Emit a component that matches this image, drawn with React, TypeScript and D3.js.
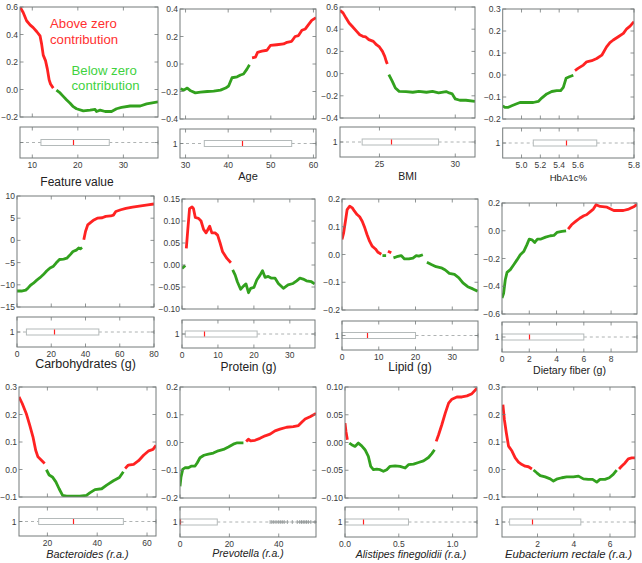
import React from 'react';
import * as d3 from 'd3';

type Pt = [number, number];
type Seg = { c: 'r' | 'g'; pts: Pt[] };

// ---------- DATA ----------
const featureSegments: Seg[] = [
  { c: 'r', pts: [[7.3,0.6],[8.0,0.56],[8.75,0.5],[9.5,0.47],[10.2,0.45],[11.0,0.42],[11.7,0.39],[12.05,0.33],[12.4,0.25],[12.9,0.21],[13.3,0.15],[13.7,0.07],[14.0,0.04],[14.6,0.01]] },
  { c: 'g', pts: [[15.3,-0.005],[16.1,-0.025],[16.8,-0.05],[17.5,-0.075],[18.3,-0.1],[19.0,-0.125],[19.7,-0.14],[21.2,-0.155],[22.7,-0.15],[23.8,-0.145],[24.1,-0.16],[24.9,-0.15],[26.0,-0.16],[27.4,-0.16],[28.5,-0.14],[29.6,-0.13],[31.5,-0.12],[33.7,-0.12],[35.1,-0.105],[37.6,-0.09]] },
];
const ageSegments: Seg[] = [
  { c: 'g', pts: [[28.8,-0.18],[29.6,-0.19],[30.4,-0.175],[31.2,-0.195],[32.3,-0.21],[33.5,-0.205],[35.1,-0.2],[36.6,-0.197],[38.2,-0.19],[39.4,-0.175],[40.1,-0.16],[40.9,-0.1],[42.1,-0.093],[42.9,-0.08],[43.6,-0.073],[44.4,-0.037],[45.0,-0.005]] },
  { c: 'r', pts: [[45.6,0.045],[46.4,0.05],[46.9,0.085],[47.9,0.093],[49.1,0.1],[49.9,0.135],[51.4,0.14],[53.0,0.146],[53.8,0.158],[54.9,0.165],[55.7,0.2],[56.5,0.207],[57.3,0.245],[58.1,0.255],[58.8,0.285],[59.6,0.317],[60.6,0.337]] },
];
const bmiSegments: Seg[] = [
  { c: 'r', pts: [[22.4,0.57],[22.6,0.547],[22.8,0.5],[23.0,0.456],[23.2,0.426],[23.5,0.38],[23.7,0.35],[23.9,0.336],[24.1,0.33],[24.3,0.306],[24.6,0.29],[24.8,0.26],[25.0,0.24],[25.2,0.2],[25.35,0.156],[25.45,0.11],[25.52,0.087]] },
  { c: 'g', pts: [[25.62,-0.01],[25.85,-0.07],[26.05,-0.13],[26.3,-0.16],[26.75,-0.162],[27.2,-0.168],[27.6,-0.16],[28.1,-0.168],[28.5,-0.16],[28.9,-0.174],[29.4,-0.162],[29.6,-0.174],[29.8,-0.183],[30.0,-0.228],[30.3,-0.24],[30.7,-0.24],[31.3,-0.25]] },
];
const hba1cSegments: Seg[] = [
  { c: 'g', pts: [[4.8,-0.14],[4.824,-0.147],[4.86,-0.147],[4.896,-0.14],[4.949,-0.131],[4.984,-0.125],[5.055,-0.125],[5.125,-0.125],[5.178,-0.12],[5.214,-0.105],[5.268,-0.086],[5.321,-0.075],[5.374,-0.071],[5.416,-0.071],[5.444,-0.056],[5.473,-0.015],[5.508,-0.008],[5.55,-0.001]] },
  { c: 'r', pts: [[5.568,0.02],[5.6,0.03],[5.619,0.045],[5.631,0.06],[5.649,0.065],[5.667,0.075],[5.685,0.09],[5.702,0.128],[5.714,0.147],[5.726,0.159],[5.744,0.174],[5.762,0.189],[5.774,0.21],[5.786,0.222],[5.8,0.242]] },
];
const carbSegments: Seg[] = [
  { c: 'g', pts: [[0,-11.4],[2.6,-11.4],[5.1,-11.2],[6.5,-10.7],[7.9,-10.1],[9.4,-9.7],[11.4,-9.0],[13.4,-8.4],[15.4,-7.7],[17.3,-6.9],[19.3,-6.2],[21.3,-5.8],[22.8,-5.1],[24.8,-4.3],[27.2,-4.2],[29.1,-4.0],[31.1,-3.2],[32.7,-2.5],[34.6,-2.2],[36.0,-1.7],[37.0,-1.9],[38.0,-1.6]] },
  { c: 'r', pts: [[39.0,0.15],[40.0,2.0],[41.3,3.5],[42.9,4.0],[44.9,4.6],[46.9,5.0],[49.8,5.1],[51.8,5.4],[54.7,5.5],[56.3,5.7],[57.7,6.5],[60.6,6.9],[63.6,7.2],[67.5,7.5],[72.4,7.8],[76.4,8.0],[80,8.2]] },
];
const proteinSegments: Seg[] = [
  { c: 'g', pts: [[0,-0.008],[0.9,-0.001]] },
  { c: 'r', pts: [[1.2,0.038],[1.6,0.079],[2.1,0.128],[2.8,0.132],[3.2,0.128],[3.7,0.108],[4.6,0.106],[5.3,0.1],[6.0,0.081],[6.7,0.073],[7.1,0.079],[7.7,0.088],[8.3,0.073],[9.2,0.073],[9.9,0.068],[10.6,0.05],[11.3,0.03],[12.5,0.015],[13.6,0.005]] },
  { c: 'g', pts: [[14.1,-0.011],[14.8,-0.023],[15.4,-0.038],[16.3,-0.055],[17.1,-0.048],[17.8,-0.043],[18.5,-0.063],[19.1,-0.053],[20.0,-0.051],[20.8,-0.034],[21.7,-0.023],[22.4,-0.013],[23.1,-0.028],[24.0,-0.026],[24.9,-0.03],[25.9,-0.03],[26.8,-0.042],[28.2,-0.053],[29.5,-0.045],[30.9,-0.042],[31.9,-0.036],[32.8,-0.03],[33.7,-0.032],[34.6,-0.036],[36.0,-0.038],[36.9,-0.043]] },
];
const lipidSegments: Seg[] = [
  { c: 'r', pts: [[0,0.054],[0.45,0.078],[1.0,0.126],[1.4,0.162],[2.1,0.174],[2.8,0.168],[3.4,0.156],[4.1,0.144],[4.8,0.136],[5.5,0.12],[6.2,0.096],[6.8,0.072],[7.5,0.048],[8.2,0.03],[9.1,0.02],[9.8,0.008],[10.7,0.001]] },
  { c: 'g', pts: [[11.0,-0.004],[12.0,-0.004]] },
  { c: 'r', pts: [[12.5,0.012],[13.4,0.006]] },
  { c: 'g', pts: [[14.0,-0.012],[14.9,-0.008],[16.1,-0.004],[17.0,-0.016],[18.2,-0.016],[19.3,-0.013],[20.2,-0.004],[20.9,-0.006],[22.0,-0.001]] },
  { c: 'g', pts: [[23.1,-0.028],[24.3,-0.036],[25.6,-0.044],[27.0,-0.048],[28.1,-0.056],[29.2,-0.068],[30.6,-0.072],[31.8,-0.084],[32.9,-0.102],[34.2,-0.116],[35.6,-0.124],[36.9,-0.132]] },
];
const fiberSegments: Seg[] = [
  { c: 'g', pts: [[0,-0.485],[0.12,-0.45],[0.24,-0.353],[0.37,-0.3],[0.61,-0.28],[0.86,-0.245],[1.1,-0.21],[1.34,-0.173],[1.59,-0.15],[1.83,-0.1],[2.0,-0.06],[2.2,-0.065],[2.4,-0.084],[2.6,-0.06],[2.86,-0.06],[3.2,-0.046],[3.55,-0.036],[3.8,-0.034],[4.03,-0.012],[4.4,-0.005],[4.7,-0.001]] },
  { c: 'r', pts: [[4.85,0.012],[5.1,0.043],[5.4,0.067],[5.7,0.09],[6.0,0.108],[6.2,0.115],[6.5,0.14],[6.7,0.156],[6.9,0.188],[7.2,0.175],[7.7,0.17],[8.2,0.146],[8.6,0.146],[8.9,0.146],[9.3,0.156],[9.7,0.175],[9.9,0.19]] },
];
const bacteroidesSegments: Seg[] = [
  { c: 'r', pts: [[8.6,0.264],[9.9,0.24],[11.5,0.204],[12.9,0.161],[14.2,0.119],[15.3,0.07],[16.2,0.046],[17.6,0.034],[18.9,0.022]] },
  { c: 'g', pts: [[19.6,-0.001],[20.7,-0.02],[22.0,-0.027],[23.4,-0.045],[24.7,-0.07],[26.1,-0.094],[27.7,-0.097],[30.4,-0.097],[33.0,-0.097],[35.7,-0.094],[37.0,-0.085],[39.1,-0.073],[41.8,-0.07],[43.8,-0.057],[46.5,-0.041],[48.9,-0.029],[50.5,-0.008]] },
  { c: 'r', pts: [[51.2,0.004],[52.5,0.016],[54.6,0.019],[56.6,0.032],[58.6,0.052],[60.7,0.068],[62.4,0.073],[63.6,0.088]] },
];
const prevotellaSegments: Seg[] = [
  { c: 'g', pts: [[0,-0.158],[0.4,-0.125],[1.1,-0.097],[2.0,-0.091],[3.4,-0.091],[4.7,-0.085],[6.1,-0.085],[7.0,-0.073],[8.1,-0.055],[9.7,-0.046],[11.5,-0.042],[13.5,-0.038],[15.5,-0.03],[17.6,-0.025],[19.6,-0.016],[21.6,-0.006],[23.2,-0.001],[25.7,-0.001]] },
  { c: 'r', pts: [[26.8,0.004],[27.7,0.012],[28.6,0.006],[30.4,0.008],[32.4,0.015],[34.5,0.024],[36.5,0.03],[38.5,0.042],[40.5,0.048],[43.2,0.055],[45.9,0.057],[48.0,0.061],[49.3,0.073],[50.7,0.085],[52.7,0.093],[55.1,0.105]] },
];
const alistipesSegments: Seg[] = [
  { c: 'r', pts: [[0,0.035],[0.009,0.02],[0.022,0.005]] },
  { c: 'g', pts: [[0.04,-0.001],[0.062,-0.004],[0.093,-0.007],[0.124,-0.001],[0.155,-0.006],[0.186,-0.013],[0.217,-0.025],[0.239,-0.043],[0.264,-0.049],[0.295,-0.048],[0.326,-0.049],[0.357,-0.052],[0.388,-0.049],[0.419,-0.043],[0.466,-0.042],[0.512,-0.043],[0.559,-0.046],[0.59,-0.04],[0.637,-0.039],[0.683,-0.036],[0.73,-0.033],[0.776,-0.027],[0.807,-0.02],[0.832,-0.013]] },
  { c: 'r', pts: [[0.848,0.002],[0.87,0.014],[0.9,0.032],[0.932,0.053],[0.963,0.071],[0.994,0.078],[1.04,0.082],[1.087,0.082],[1.134,0.084],[1.18,0.088],[1.227,0.098]] },
];
const eubacteriumSegments: Seg[] = [
  { c: 'r', pts: [[0.09,0.236],[0.17,0.182],[0.28,0.133],[0.4,0.085],[0.59,0.067],[0.77,0.042],[0.95,0.027],[1.14,0.018],[1.32,0.012],[1.5,0.01],[1.69,0.002]] },
  { c: 'g', pts: [[1.78,-0.002],[1.96,-0.012],[2.15,-0.022],[2.42,-0.027],[2.7,-0.034],[2.88,-0.042],[3.1,-0.034],[3.34,-0.03],[3.61,-0.027],[3.98,-0.027],[4.26,-0.024],[4.53,-0.034],[4.8,-0.036],[5.04,-0.036],[5.27,-0.046],[5.45,-0.036],[5.72,-0.036],[5.96,-0.03],[6.18,-0.018],[6.37,-0.002]] },
  { c: 'r', pts: [[6.5,0.002],[6.64,0.012],[6.83,0.024],[7.01,0.039],[7.2,0.042],[7.38,0.042]] },
];

// box stats: [whiskerLow, q1, median, q3, whiskerHigh]
const featureBox = [7.3, 11.9, 18.9, 26.9, 37.6];
const ageBox = [28.7, 34.4, 43.2, 54.9, 60.6];
const bmiBox = [22.4, 23.86, 25.77, 28.9, 31.3];
const hba1cBox = [4.8, 5.125, 5.47, 5.667, 5.8];
const carbBox = [0, 5.5, 21.8, 47.8, 80];
const proteinBox = [0, 0.9, 6.0, 20.9, 37];
const lipidBox = [0, 0, 6.9, 20, 37];
const fiberBox = [0, 0, 2.0, 6.0, 9.9];
const bacteroidesBox = [8.6, 16.5, 30.4, 50.5, 63.6];
const prevotellaBox = [0, 0, 0, 15.1, 36.5];
const prevotellaOutliers = [37.2, 38.0, 38.9, 39.8, 40.6, 41.4, 42.2, 43.5, 45.5, 47.5, 48.5, 49.2, 49.9, 50.6, 51.3, 52.0, 53.0, 54.7];
const alistipesBox = [0, 0, 0.165, 0.59, 1.227];
const eubacteriumBox = [0.04, 0.46, 1.72, 4.39, 7.38];

// tick values
const featureXTicks = [10, 20, 30];
const featureYTicks = [-0.2, 0, 0.2, 0.4, 0.6];
const ageXTicks = [30, 40, 50, 60];
const ageYTicks = [-0.4, -0.2, 0, 0.2, 0.4];
const bmiXTicks = [25, 30];
const bmiYTicks = [-0.4, -0.2, 0, 0.2, 0.4, 0.6];
const hba1cXTicks = [5.0, 5.2, 5.4, 5.6, 5.8];
const hba1cYTicks = [-0.2, -0.1, 0, 0.1, 0.2, 0.3];
const carbXTicks = [0, 20, 40, 60, 80];
const carbYTicks = [-15, -10, -5, 0, 5, 10];
const proteinXTicks = [0, 10, 20, 30];
const proteinYTicks = [-0.1, -0.05, 0, 0.05, 0.1, 0.15];
const lipidXTicks = [0, 10, 20, 30];
const lipidYTicks = [-0.2, -0.1, 0, 0.1, 0.2];
const fiberXTicks = [0, 2, 4, 6, 8];
const fiberYTicks = [-0.6, -0.4, -0.2, 0, 0.2];
const bacteroidesXTicks = [20, 40, 60];
const bacteroidesYTicks = [-0.1, 0, 0.1, 0.2, 0.3];
const prevotellaXTicks = [0, 20, 40];
const prevotellaYTicks = [-0.2, -0.1, 0, 0.1, 0.2];
const alistipesXTicks = [0, 0.5, 1.0];
const alistipesYTicks = [-0.1, -0.05, 0, 0.05, 0.1];
const eubacteriumXTicks = [2, 4, 6];
const eubacteriumYTicks = [-0.1, 0, 0.1, 0.2, 0.3];

// ---------- STYLE / LAYOUT ----------
const RED = '#ff2222';
const GREEN = '#32a11e';
const FRAME = '#747a7a';
const TICKTXT = '#3a3a3a';
const FONT = '"Liberation Sans", Arial, sans-serif';

type PanelCfg = {
  title: string; italic?: boolean; titleSize: number; titleY: number; titleX?: number;
  segs: Seg[]; xDomain: number[]; xStops?: number[]; yDomain: [number, number];
  xTicks: number[]; yTicks: number[]; xDec: number; yDec: number;
  box: number[]; outliers?: number[]; showOne?: boolean;
  l: number; t: number; r: number; b: number; bt: number; bb: number;
};

const panels: PanelCfg[] = [
  { title: 'Feature value', titleSize: 12, titleY: 186, titleX: 77, segs: featureSegments, xDomain: [7.3, 37.6], yDomain: [-0.2, 0.6], xTicks: featureXTicks, yTicks: featureYTicks, xDec: 0, yDec: 1, box: featureBox, showOne: false, l: 20, t: 7, r: 158, b: 117, bt: 127, bb: 158 },
  { title: 'Age', titleSize: 11, titleY: 180, segs: ageSegments, xDomain: [28.7, 60.6], yDomain: [-0.4, 0.4], xTicks: ageXTicks, yTicks: ageYTicks, xDec: 0, yDec: 1, box: ageBox, l: 180, t: 9, r: 316, b: 119, bt: 129, bb: 158 },
  { title: 'BMI', titleSize: 10.5, titleY: 180, segs: bmiSegments, xDomain: [22.4, 31.3], yDomain: [-0.4, 0.6], xTicks: bmiXTicks, yTicks: bmiYTicks, xDec: 0, yDec: 1, box: bmiBox, l: 340, t: 7, r: 475, b: 118, bt: 127, bb: 157 },
  { title: 'HbA1c%', titleSize: 9.6, titleY: 181, segs: hba1cSegments, xDomain: [4.8, 5.6, 5.8], xStops: [0, 0.5735, 1], yDomain: [-0.2, 0.3], xTicks: hba1cXTicks, yTicks: hba1cYTicks, xDec: 1, yDec: 1, box: hba1cBox, l: 502.7, t: 9, r: 634, b: 119, bt: 128, bb: 158 },
  { title: 'Carbohydrates (g)', titleSize: 12.5, titleY: 368, segs: carbSegments, xDomain: [0, 80], yDomain: [-15, 10], xTicks: carbXTicks, yTicks: carbYTicks, xDec: 0, yDec: 0, box: carbBox, l: 17, t: 196, r: 154, b: 307, bt: 317, bb: 347 },
  { title: 'Protein (g)', titleSize: 12, titleY: 371, segs: proteinSegments, xDomain: [0, 37], yDomain: [-0.1, 0.15], xTicks: proteinXTicks, yTicks: proteinYTicks, xDec: 0, yDec: 2, box: proteinBox, l: 182, t: 199, r: 315, b: 309, bt: 320, bb: 348 },
  { title: 'Lipid (g)', titleSize: 12, titleY: 371, segs: lipidSegments, xDomain: [0, 37], yDomain: [-0.2, 0.2], xTicks: lipidXTicks, yTicks: lipidYTicks, xDec: 0, yDec: 1, box: lipidBox, l: 342, t: 199, r: 478, b: 310, bt: 321, bb: 350 },
  { title: 'Dietary fiber (g)', titleSize: 10.6, titleY: 374, segs: fiberSegments, xDomain: [0, 9.9], yDomain: [-0.6, 0.2], xTicks: fiberXTicks, yTicks: fiberYTicks, xDec: 0, yDec: 1, box: fiberBox, l: 502, t: 203, r: 637, b: 314, bt: 322, bb: 352 },
  { title: 'Bacteroides (r.a.)', italic: true, titleSize: 10.8, titleY: 558, segs: bacteroidesSegments, xDomain: [8.6, 63.6], yDomain: [-0.1, 0.3], xTicks: bacteroidesXTicks, yTicks: bacteroidesYTicks, xDec: 0, yDec: 1, box: bacteroidesBox, l: 19, t: 387, r: 156, b: 497, bt: 507, bb: 536 },
  { title: 'Prevotella (r.a.)', italic: true, titleSize: 10.5, titleY: 557, segs: prevotellaSegments, xDomain: [0, 55.1], yDomain: [-0.2, 0.2], xTicks: prevotellaXTicks, yTicks: prevotellaYTicks, xDec: 0, yDec: 1, box: prevotellaBox, outliers: prevotellaOutliers, l: 180, t: 387, r: 316, b: 498, bt: 507, bb: 537 },
  { title: 'Alistipes finegolidii (r.a.)', italic: true, titleSize: 10.5, titleY: 558, segs: alistipesSegments, xDomain: [0, 1.227], yDomain: [-0.1, 0.1], xTicks: alistipesXTicks, yTicks: alistipesYTicks, xDec: 1, yDec: 2, box: alistipesBox, l: 345, t: 387, r: 477, b: 498, bt: 507, bb: 537 },
  { title: 'Eubacterium rectale (r.a.)', italic: true, titleSize: 11.3, titleY: 558, segs: eubacteriumSegments, xDomain: [0.04, 7.38], yDomain: [-0.1, 0.3], xTicks: eubacteriumXTicks, yTicks: eubacteriumYTicks, xDec: 0, yDec: 1, box: eubacteriumBox, l: 502, t: 387, r: 635, b: 497, bt: 507, bb: 537 },
];

const fmt = (v: number, dec: number) => {
  const s = Math.abs(v).toFixed(dec);
  return (v < -1e-9 ? '\u2212' : '') + s;
};

function Panel({ p, idx }: { p: PanelCfg; idx: number }) {
  const range = p.xStops ? p.xStops.map((f) => p.l + f * (p.r - p.l)) : [p.l, p.r];
  const x = d3.scaleLinear().domain(p.xDomain).range(range);
  const y = d3.scaleLinear().domain(p.yDomain).range([p.b, p.t]);
  const line = d3.line<Pt>().x((d) => x(d[0])).y((d) => y(d[1])).curve(d3.curveLinear);
  const clipId = `clip${idx}`;
  const tl = 3.5;
  const cy = (p.bt + p.bb) / 2;
  const bh = 6;
  const [wLo, q1, med, q3, wHi] = p.box;
  const mx = Math.round(x(med)) + 0.5;
  return (
    <g>
      <defs>
        <clipPath id={clipId}>
          <rect x={p.l} y={p.t} width={p.r - p.l} height={p.b - p.t} />
        </clipPath>
      </defs>
      <rect x={p.l} y={p.t} width={p.r - p.l} height={p.b - p.t} fill="#fff" />
      <g clipPath={`url(#${clipId})`}>
        {p.segs.map((s, i) => (
          <path key={i} d={line(s.pts) || ''} fill="none" stroke={s.c === 'r' ? RED : GREEN} strokeWidth={2.8} strokeLinejoin="round" strokeLinecap="butt" />
        ))}
      </g>
      {p.yTicks.map((v, i) => (
        <g key={'y' + i}>
          <line x1={p.l} x2={p.l + tl} y1={y(v)} y2={y(v)} stroke={FRAME} strokeWidth={0.8} />
          <line x1={p.r} x2={p.r - tl} y1={y(v)} y2={y(v)} stroke={FRAME} strokeWidth={0.8} />
          <text x={p.l - 2} y={y(v) + 3} textAnchor="end" fontSize={8.5} fill={TICKTXT} fontFamily={FONT}>{fmt(v, p.yDec)}</text>
        </g>
      ))}
      {p.xTicks.map((v, i) => (
        <g key={'x' + i}>
          <line x1={x(v)} x2={x(v)} y1={p.b} y2={p.b - tl} stroke={FRAME} strokeWidth={0.8} />
          <line x1={x(v)} x2={x(v)} y1={p.t} y2={p.t + tl} stroke={FRAME} strokeWidth={0.8} />
          <line x1={x(v)} x2={x(v)} y1={p.bb} y2={p.bb - tl} stroke={FRAME} strokeWidth={0.8} />
          <line x1={x(v)} x2={x(v)} y1={p.bt} y2={p.bt + tl} stroke={FRAME} strokeWidth={0.8} />
          <text x={x(v)} y={p.bb + 9.5} textAnchor="middle" fontSize={8.5} fill={TICKTXT} fontFamily={FONT}>{fmt(v, p.xDec)}</text>
        </g>
      ))}
      <rect x={p.l} y={p.t} width={p.r - p.l} height={p.b - p.t} fill="none" stroke={FRAME} strokeWidth={1} />
      <g>
        <line x1={x(wLo)} x2={x(q1)} y1={cy} y2={cy} stroke="#9aa0a0" strokeWidth={0.8} strokeDasharray="3,3" />
        <line x1={x(q3)} x2={x(wHi)} y1={cy} y2={cy} stroke="#9aa0a0" strokeWidth={0.8} strokeDasharray="3,3" />
        <line x1={x(wHi)} x2={x(wHi)} y1={cy - 2} y2={cy + 2} stroke="#9aa0a0" strokeWidth={0.8} />
        <rect x={x(q1)} y={cy - bh / 2} width={x(q3) - x(q1)} height={bh} fill="#fff" stroke="#b4baba" strokeWidth={1} />
        <line x1={mx} x2={mx} y1={cy - bh / 2 + 0.5} y2={cy + bh / 2 - 0.5} stroke={RED} strokeWidth={1.2} />
        {(p.outliers || []).map((o, i) => (
          <g key={'o' + i} stroke="#8a9090" strokeWidth={0.8}>
            <line x1={x(o) - 2} x2={x(o) + 2} y1={cy} y2={cy} />
            <line x1={x(o)} x2={x(o)} y1={cy - 2} y2={cy + 2} />
          </g>
        ))}
        <line x1={p.l} x2={p.l + tl} y1={cy} y2={cy} stroke={FRAME} strokeWidth={0.8} />
        <line x1={p.r} x2={p.r - tl} y1={cy} y2={cy} stroke={FRAME} strokeWidth={0.8} />
        {p.showOne !== false && (
          <text x={p.l - 2.5} y={cy + 3} textAnchor="end" fontSize={8.5} fill={TICKTXT} fontFamily={FONT}>1</text>
        )}
        <rect x={p.l} y={p.bt} width={p.r - p.l} height={p.bb - p.bt} fill="none" stroke={FRAME} strokeWidth={1} />
      </g>
      <text x={p.titleX ?? (p.l + p.r) / 2} y={p.titleY} textAnchor="middle" fontSize={p.titleSize} fill="#222" fontFamily={FONT} fontStyle={p.italic ? 'italic' : 'normal'}>{p.title}</text>
    </g>
  );
}

export default function App() {
  return (
    <svg width={642} height={563} style={{ position: 'absolute', left: 0, top: 0, background: '#fff' }}>
      <rect x={0} y={0} width={642} height={563} fill="#fff" />
      {panels.map((p, i) => (
        <Panel key={i} p={p} idx={i} />
      ))}
      <g fontFamily={FONT} fontSize={13.2}>
        <text x={50} y={28} fill="#ff3030">Above zero</text>
        <text x={50} y={43.5} fill="#ff3030">contribution</text>
        <text x={71.5} y={74.5} fill="#3fd23f">Below zero</text>
        <text x={71.5} y={90} fill="#3fd23f">contribution</text>
      </g>
    </svg>
  );
}
